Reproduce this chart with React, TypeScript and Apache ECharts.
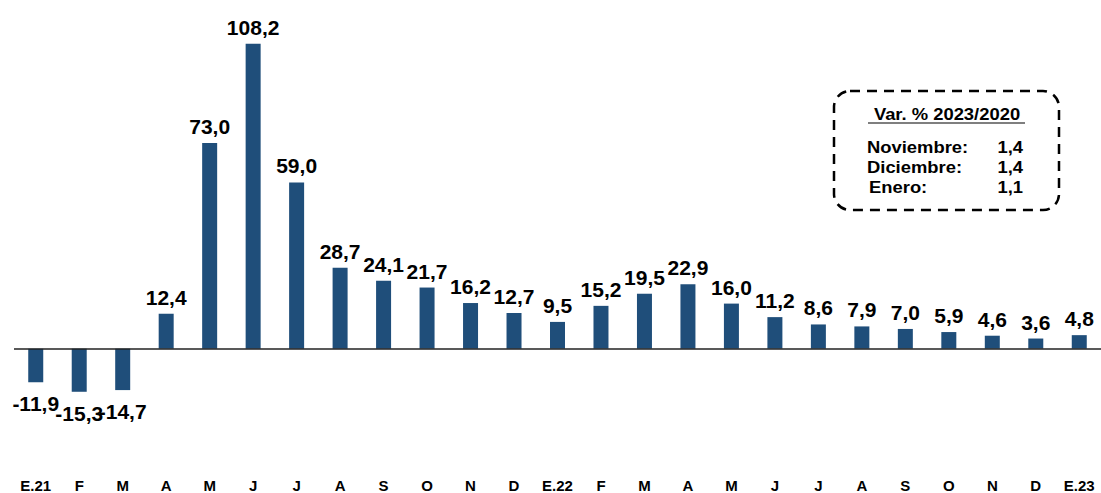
import React, { useEffect, useRef } from 'react';
import * as echarts from 'echarts';

const months = ['E.21', 'F', 'M', 'A', 'M', 'J', 'J', 'A', 'S', 'O', 'N', 'D', 'E.22', 'F', 'M', 'A', 'M', 'J', 'J', 'A', 'S', 'O', 'N', 'D', 'E.23'];
const values = [-11.9, -15.3, -14.7, 12.4, 73.0, 108.2, 59.0, 28.7, 24.1, 21.7, 16.2, 12.7, 9.5, 15.2, 19.5, 22.9, 16.0, 11.2, 8.6, 7.9, 7.0, 5.9, 4.6, 3.6, 4.8];
const boxTitle = 'Var. % 2023/2020';
const boxRows = ['Noviembre:', 'Diciembre:', 'Enero:'];
const boxValues = ['1,4', '1,4', '1,1'];

const FONT = 'Liberation Sans, Arial, sans-serif';
const fmt = (v: number) => v.toFixed(1).replace('.', ',');

export default function App() {
  const ref = useRef<HTMLDivElement>(null);
  useEffect(() => {
    if (!ref.current) return;
    const chart = echarts.init(ref.current, null, { renderer: 'svg' });
    const rowY = [147, 167, 187];
    const boxText = { fill: '#000', fontSize: 16, fontWeight: 'bold', fontFamily: FONT, verticalAlign: 'middle' };
    chart.setOption({
      animation: false,
      backgroundColor: '#fff',
      grid: { left: 14, right: -2, top: 10.6, bottom: 24.3 },
      xAxis: {
        type: 'category',
        data: months,
        axisLine: { show: false },
        axisTick: { show: false },
        axisLabel: { interval: 0, margin: 11, color: '#000', fontWeight: 'bold', fontSize: 15, fontFamily: FONT },
      },
      yAxis: { type: 'value', min: -42, max: 120, show: false, splitLine: { show: false } },
      series: [
        {
          type: 'bar',
          data: values.map((v) => ({
            value: v,
            label: { position: v < 0 ? 'bottom' : 'top', distance: v < 0 ? 11 : 6 },
          })),
          barWidth: 15,
          itemStyle: { color: '#1F4E7A' },
          label: {
            show: true,
            color: '#000',
            fontWeight: 'bold',
            fontSize: 21,
            fontFamily: FONT,
            formatter: (p: any) => fmt(p.value),
          },
          markLine: {
            silent: true,
            symbol: ['none', 'none'],
            label: { show: false },
            lineStyle: { color: '#222', width: 1.5, type: 'solid' },
            data: [{ yAxis: 0 }],
          },
        },
      ],
      graphic: [
        {
          type: 'rect',
          shape: { x: 834, y: 91, width: 225, height: 119, r: 16 },
          style: { fill: 'none', stroke: '#000', lineWidth: 2.5, lineDash: [10, 7] },
        },
        {
          type: 'text',
          x: 947,
          y: 114,
          scaleX: 1.15,
          style: { ...boxText, text: boxTitle, align: 'center' },
        },
        {
          type: 'line',
          shape: { x1: 868, y1: 123, x2: 1025, y2: 123 },
          style: { stroke: '#000', lineWidth: 1.2 },
        },
        ...boxRows.map((t, i) => ({
          type: 'text',
          x: i === 2 ? 869 : 867,
          y: rowY[i],
          scaleX: 1.15,
          style: { ...boxText, text: t, align: 'left' },
        })),
        ...boxValues.map((t, i) => ({
          type: 'text',
          x: 1023,
          y: rowY[i],
          scaleX: 1.15,
          style: { ...boxText, text: t, align: 'right' },
        })),
      ],
    });
    return () => chart.dispose();
  }, []);
  return <div ref={ref} style={{ position: 'fixed', left: 0, top: 0, width: 1101, height: 493 }} />;
}
